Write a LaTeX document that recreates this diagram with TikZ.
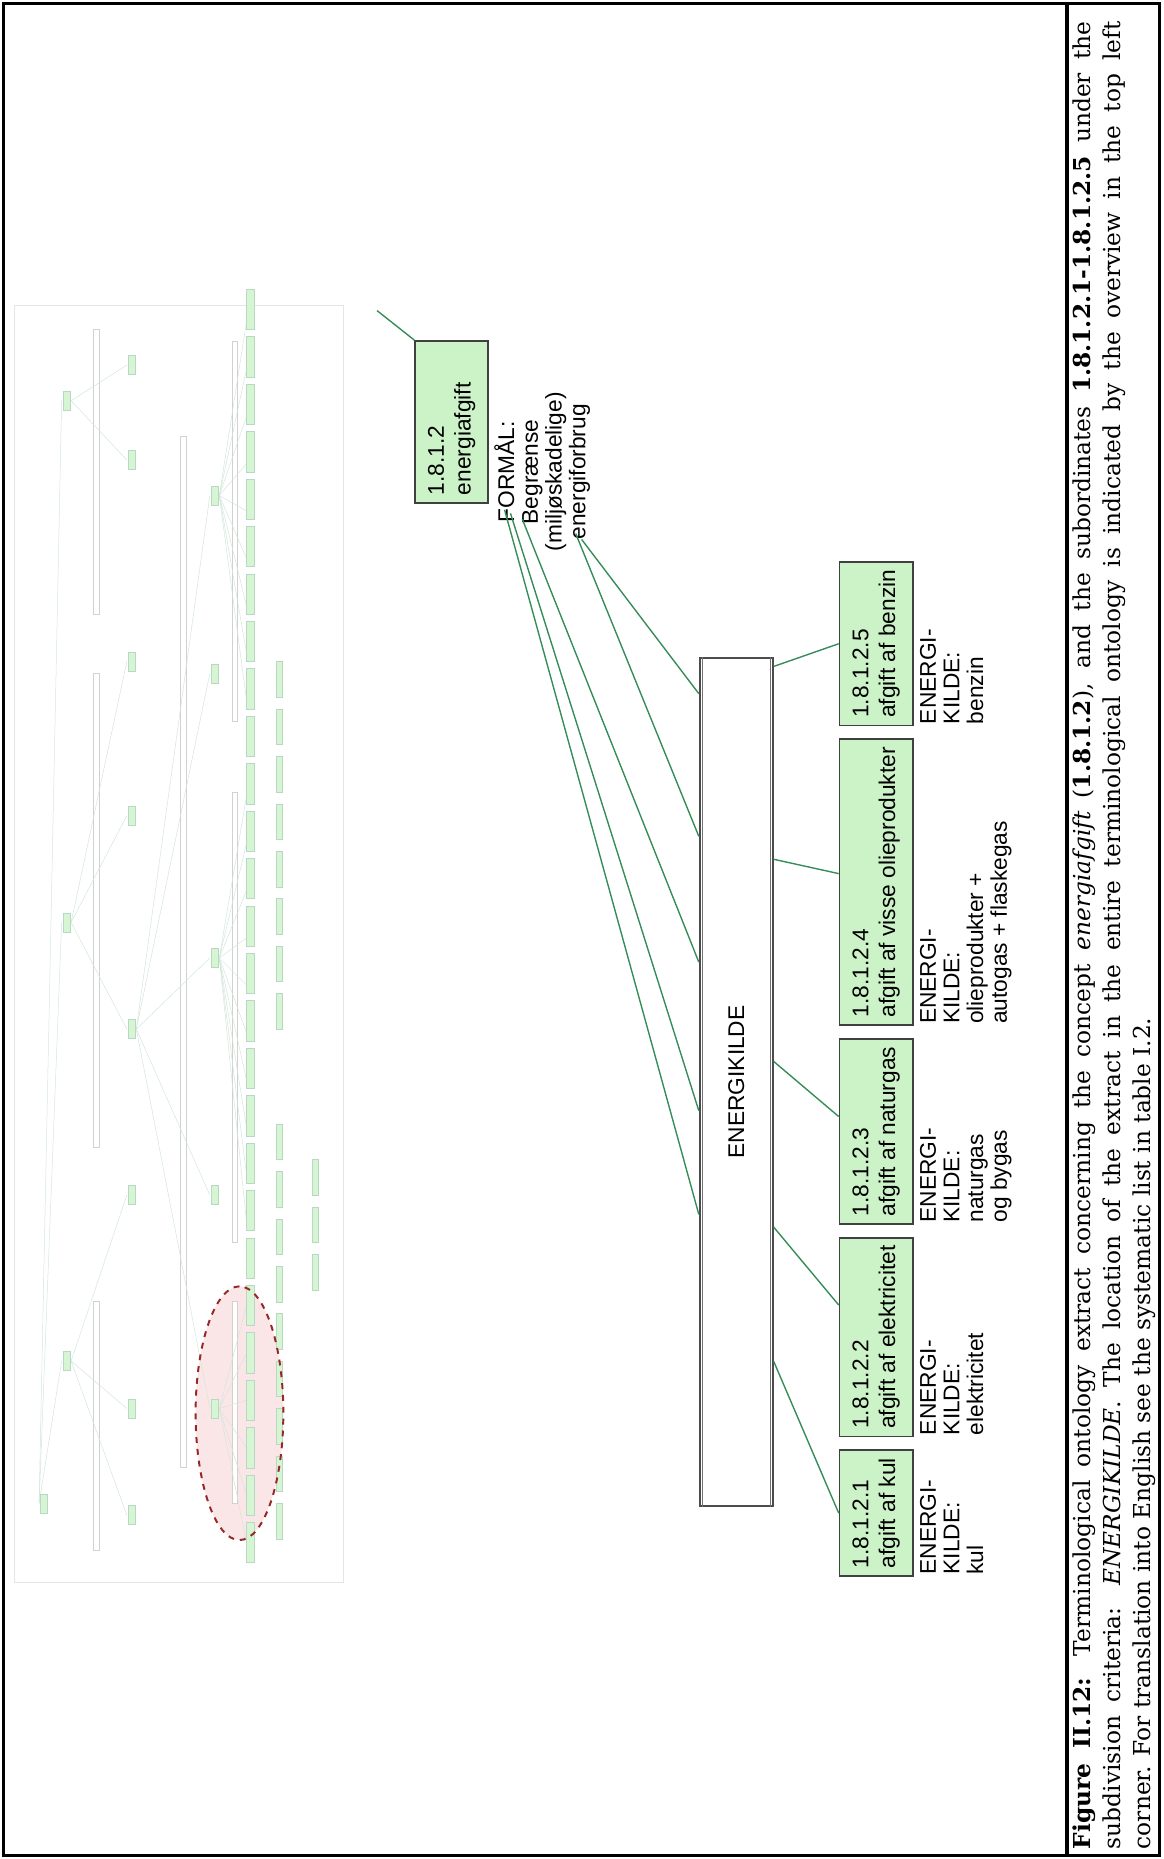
\documentclass[tikz,border=0pt]{standalone}
\usepackage{fontspec}
\newfontfamily\diagfont{Liberation Sans}
\newfontfamily\capfont{DejaVu Serif}
\usetikzlibrary{positioning,calc}

\definecolor{conceptfill}{RGB}{204,242,200}
\definecolor{edgegreen}{RGB}{52,140,88}
\definecolor{ringred}{RGB}{150,40,40}
\definecolor{ringfill}{RGB}{250,230,230}

\tikzset{
  concept/.style={draw=black!75, line width=0.9pt, fill=conceptfill, align=left,
    font={\diagfont\fontsize{11.5}{13.5}\selectfont}, inner xsep=4pt, inner ysep=3.5pt,
    minimum height=37pt},
  criterion/.style={draw=black!70, line width=0.9pt, fill=white,
    font={\diagfont\fontsize{11.5}{13.5}\selectfont}, minimum height=37pt},
  feature/.style={align=left, font={\diagfont\fontsize{11.5}{12}\selectfont}, inner sep=1pt},
  edge/.style={edgegreen, line width=0.7pt},
  thumbnode/.style={fill=conceptfill!80, draw=edgegreen!35, line width=0.2pt},
  thumbcrit/.style={fill=white, draw=black!18, line width=0.3pt},
  thumbline/.style={edgegreen!22, line width=0.25pt},
  captionline/.style={anchor=base west, inner sep=0pt, font={\capfont\fontsize{11.8}{15.5}\selectfont}},
}

\begin{document}
\begin{tikzpicture}[x=0.6pt, y=0.6pt]
\begin{scope}[rotate=90, transform shape]
  \useasboundingbox (0,0) rectangle (1568,981);

  % frame and caption column
  \draw[line width=1.6pt] (3,3) rectangle (1565,978);
  \draw[line width=1.6pt] (3,81) -- (1565,81);

  \node[captionline] (cap1) at (8,61) {\makebox[925pt][s]{\textbf{Figure II.12:} Terminological ontology extract concerning the concept \textit{energiafgift} (\textbf{1.8.1.2}), and the subordinates \textbf{1.8.1.2.1-1.8.1.2.5} under the}};
  \node[captionline] (cap2) at (8,35.5) {\makebox[925pt][s]{subdivision criteria: \textit{ENERGIKILDE}. The location of the extract in the entire terminological ontology is indicated by the overview in the top left}};
  \node[captionline] (cap3) at (8,10.5) {corner. For translation into English see the systematic list in table I.2.};

  % overview of the whole ontology
  \draw[black!10, line width=0.5pt] (233,691) rectangle (1310,969);
  \fill[ringfill] (376,779) ellipse (107 and 37);
  \draw[thumbcrit] (260,897) rectangle (470,902);
  \draw[thumbcrit] (600,897) rectangle (1000,902);
  \draw[thumbcrit] (1050,897) rectangle (1290,902);
  \draw[thumbcrit] (330,824) rectangle (1200,829);
  \draw[thumbcrit] (300,781) rectangle (470,785);
  \draw[thumbcrit] (520,781) rectangle (900,785);
  \draw[thumbcrit] (960,781) rectangle (1280,785);
  \foreach \u in {420,790,1230}
    \draw[thumbline] (300,948) -- (\u,929);
  \foreach \u in {290,380,560}
    \draw[thumbline] (420,921) -- (\u,874);
  \foreach \u in {700,880,1010}
    \draw[thumbline] (790,921) -- (\u,874);
  \foreach \u in {1180,1260}
    \draw[thumbline] (1230,921) -- (\u,874);
  \foreach \u in {380,560,760,1000,1150}
    \draw[thumbline] (700,866) -- (\u,804);
  \foreach \u in {250,290,...,470}
    \draw[thumbline] (380,796) -- (\u+17,773);
  \foreach \u in {520,560,...,900}
    \draw[thumbline] (760,796) -- (\u+17,773);
  \foreach \u in {960,1000,...,1280}
    \draw[thumbline] (1150,796) -- (\u+17,773);
  \foreach \u/\v in {300/944,420/925,790/925,1230/925,290/870,380/870,560/870,700/870,880/870,1010/870,1180/870,1260/870,380/800,560/800,760/800,1000/800,1150/800}
    \draw[thumbnode] (\u-8,\v-3) rectangle (\u+8,\v+3);
  \foreach \u in {250,290,...,1290}
    \draw[thumbnode] (\u,767) rectangle (\u+34,773);
  \foreach \u in {270,310,...,600}
    \draw[thumbnode] (\u,743) rectangle (\u+30,748);
  \foreach \u in {700,740,...,1000}
    \draw[thumbnode] (\u,743) rectangle (\u+30,748);
  \foreach \u in {480,520,560}
    \draw[thumbnode] (\u,713) rectangle (\u+30,718);
  \draw[ringred, dashed, line width=1pt] (376,779) ellipse (107 and 37);

  % the extract
  \node[concept, anchor=west, text width=74pt] (energiafgift) at (1143,600) {1.8.1.2\\energiafgift};
  \node[feature, align=center, anchor=north] (formaal) at (1170,566) {FORMÅL:\\Begrænse\\(miljøskadelige)\\energiforbrug};
  \coordinate (parent) at (1306,663);
  \draw[edge] (parent) -- (energiafgift.north east);

  \node[criterion, minimum width=429pt] (kilde) at (655.5,360) {ENERGIKILDE};
  \draw[black!55, line width=0.4pt] ($(kilde.north west)+(0,-3)$) -- ($(kilde.north east)+(0,-3)$);
  \draw[black!55, line width=0.4pt] ($(kilde.south west)+(0,3)$) -- ($(kilde.south east)+(0,3)$);

  \node[concept, anchor=west] (kul) at (238,242) {1.8.1.2.1\\afgift af kul};
  \node[concept, right=6pt of kul] (elektricitet) {1.8.1.2.2\\afgift af elektricitet};
  \node[concept, right=6pt of elektricitet] (naturgas) {1.8.1.2.3\\afgift af naturgas};
  \node[concept, right=6pt of naturgas] (olie) {1.8.1.2.4\\afgift af visse olieprodukter};
  \node[concept, right=6pt of olie] (benzin) {1.8.1.2.5\\afgift af benzin};

  \node[feature, below right=2pt and 0pt of kul.south west] (kulkilde) {ENERGI-\\KILDE:\\kul};
  \node[feature, below right=2pt and 0pt of elektricitet.south west] (elektricitetkilde) {ENERGI-\\KILDE:\\elektricitet};
  \node[feature, below right=2pt and 0pt of naturgas.south west] (naturgaskilde) {ENERGI-\\KILDE:\\naturgas\\og bygas};
  \node[feature, below right=2pt and 0pt of olie.south west] (oliekilde) {ENERGI-\\KILDE:\\olieprodukter +\\autogas + flaskegas};
  \node[feature, below right=2pt and 0pt of benzin.south west] (benzinkilde) {ENERGI-\\KILDE:\\benzin};

  % fan from the superordinate to the criterion
  \draw[edge] ($(energiafgift.south west)+(-5,-13)$) -- ($(kilde.north west)!0.344!(kilde.north east)$);
  \draw[edge] ($(energiafgift.south west)+(-8,-18)$) -- ($(kilde.north west)!0.466!(kilde.north east)$);
  \draw[edge] ($(energiafgift.south west)+(-13,-28)$) -- ($(kilde.north west)!0.641!(kilde.north east)$);
  \draw[edge] ($(energiafgift.south west)+(-25,-73)$) -- ($(kilde.north west)!0.789!(kilde.north east)$);
  \draw[edge] ($(energiafgift.south west)+(-30,-78)$) -- ($(kilde.north west)!0.957!(kilde.north east)$);

  % criterion to subordinates
  \draw[edge] ($(kilde.south west)!0.171!(kilde.south east)$) -- (kul.north);
  \draw[edge] ($(kilde.south west)!0.329!(kilde.south east)$) -- ($(elektricitet.north west)!0.66!(elektricitet.north east)$);
  \draw[edge] ($(kilde.south west)!0.524!(kilde.south east)$) -- ($(naturgas.north west)!0.58!(naturgas.north east)$);
  \draw[edge] ($(kilde.south west)!0.762!(kilde.south east)$) -- ($(olie.north west)!0.53!(olie.north east)$);
  \draw[edge] ($(kilde.south west)!0.989!(kilde.south east)$) -- (benzin.north);
\end{scope}
\end{tikzpicture}
\end{document}
